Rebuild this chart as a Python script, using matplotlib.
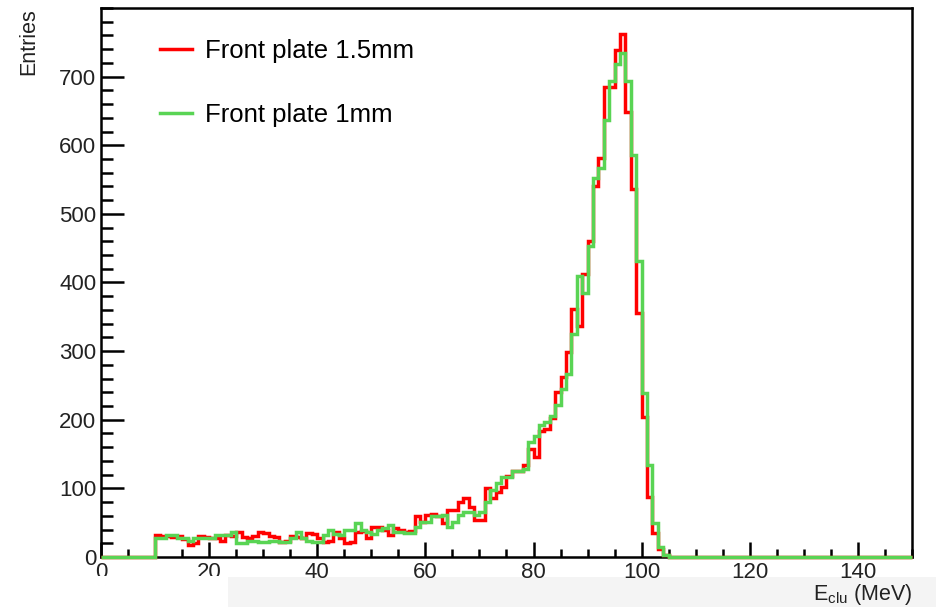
import matplotlib
matplotlib.use("Agg")
import matplotlib.pyplot as plt
from matplotlib.lines import Line2D
from matplotlib.patches import Rectangle
import numpy as np

plt.rcParams["font.family"] = ["Liberation Sans", "DejaVu Sans"]
plt.rcParams["mathtext.fontset"] = "custom"
plt.rcParams["mathtext.rm"] = "Liberation Sans"

# histogram: 1 MeV bins from 0 to 150, non-empty from 10 to 105 MeV
bin_edges = np.arange(0, 151, 1)
first_bin = 10

red_counts = [
    32, 30, 31, 29, 30, 26, 18, 20, 30, 29,
    27, 28, 24, 32, 30, 37, 29, 27, 30, 36,
    35, 30, 29, 22, 24, 30, 29, 28, 35, 34,
    27, 22, 24, 36, 27, 20, 22, 37, 38, 28,
    44, 44, 40, 32, 42, 39, 37, 38, 59, 51,
    61, 62, 60, 49, 68, 68, 80, 86, 73, 54,
    54, 100, 86, 95, 102, 118, 126, 126, 134, 158,
    146, 184, 186, 202, 240, 262, 298, 362, 337, 413,
    460, 540, 581, 685, 685, 739, 762, 649, 536, 356,
    204, 88, 35, 12, 3,
]
green_counts = [
    27, 27, 32, 32, 27, 27, 24, 28, 27, 28,
    27, 32, 32, 32, 37, 20, 20, 24, 24, 22,
    22, 24, 24, 22, 22, 27, 37, 27, 24, 22,
    22, 32, 39, 34, 32, 39, 39, 49, 40, 37,
    34, 40, 42, 46, 37, 37, 35, 35, 44, 51,
    51, 59, 59, 61, 44, 51, 61, 66, 66, 61,
    66, 80, 97, 108, 117, 117, 126, 126, 128, 167,
    177, 192, 196, 206, 221, 245, 267, 325, 409, 385,
    453, 552, 567, 637, 693, 719, 734, 693, 586, 431,
    239, 134, 49, 15, 3,
]
labels = ["Front plate 1.5mm", "Front plate 1mm"]
colors = ["#ff0000", "#59d454"]


def full_hist(counts):
    h = np.zeros(len(bin_edges) - 1)
    h[first_bin:first_bin + len(counts)] = counts
    return h


fig = plt.figure(figsize=(9.37, 6.07), dpi=100)

# screenshot remnants at the bottom edge
fig.patches.append(Rectangle((228 / 937, 0), 1 - 228 / 937, 30 / 607,
                             transform=fig.transFigure, facecolor="#f4f4f4",
                             edgecolor="none", zorder=-1))
fig.patches.append(Rectangle((0, 0), 228 / 937, 31 / 607,
                             transform=fig.transFigure, facecolor="white",
                             edgecolor="none", zorder=10))

ax = fig.add_axes([0.1078, 0.0824, 0.8655, 0.9044])

for counts, c in zip([red_counts, green_counts], colors):
    ax.stairs(full_hist(counts), bin_edges, color=c, lw=2.5, zorder=3, clip_on=False)

ax.set_xlim(0, 150)
ax.set_ylim(0, 800)
ax.set_xticks(np.arange(0, 141, 20))
ax.set_xticks(np.arange(0, 151, 5), minor=True)
ax.set_yticks(np.arange(0, 701, 100))
ax.set_yticks(np.arange(0, 801, 20), minor=True)

for s in ax.spines.values():
    s.set_linewidth(1.8)
ax.tick_params(which="both", direction="in", top=False, right=False,
               width=1.8, labelsize=16, pad=3.5, labelcolor="#222222")
ax.tick_params(axis="x", which="major", length=11)
ax.tick_params(axis="x", which="minor", length=5.8)
ax.tick_params(axis="y", which="major", length=16.5)
ax.tick_params(axis="y", which="minor", length=8.5)

ax.text(1.0, -0.046, r"$\mathregular{E_{clu}}$ (MeV)", transform=ax.transAxes,
        ha="right", va="top", fontsize=15.5, color="#222222")
ax.text(-0.0894, 1.0, "Entries", transform=ax.transAxes, rotation=90,
        ha="center", va="top", fontsize=15.5, color="#222222")

handles = [Line2D([], [], color=c, lw=2.5) for c in colors]
ax.legend(handles, labels, loc="upper left", bbox_to_anchor=(0.0727, 0.943),
          frameon=False, fontsize=18.5, handlelength=1.25, handletextpad=0.5,
          labelspacing=1.55, borderpad=0, borderaxespad=0)

fig.savefig("out.png", dpi=100)
